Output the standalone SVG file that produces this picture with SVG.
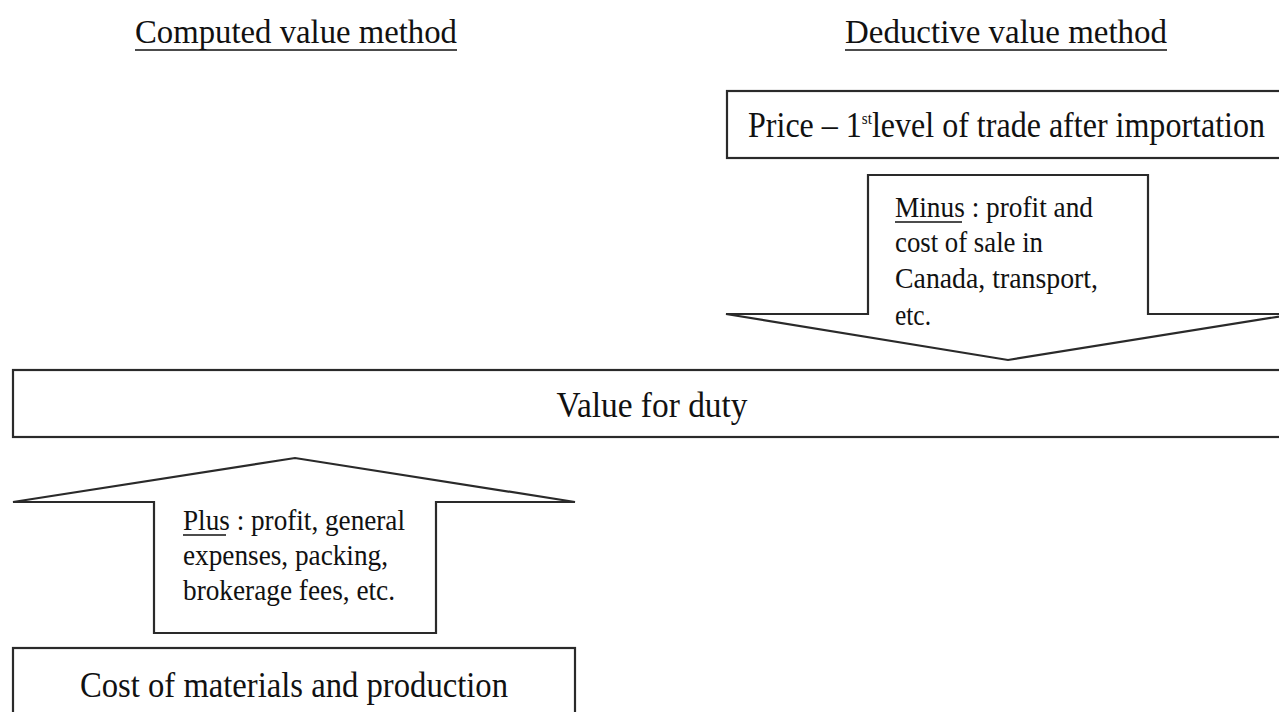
<svg xmlns="http://www.w3.org/2000/svg" width="1279" height="712" viewBox="0 0 1279 712">
<style>
.box{fill:#fff;stroke:#2a2a2a;stroke-width:2.2}
.arr{fill:#fff;stroke:#2a2a2a;stroke-width:2.2;stroke-linejoin:miter}
text{font-family:"Liberation Serif","Times New Roman",serif;fill:#111}
.t{font-size:34px}
.big{font-size:36px}
.s{font-size:29px}
.ul{stroke:#111;stroke-width:1.6}
</style>
<rect width="1279" height="712" fill="#fff"/>
<g id="title-computed">
<text class="t" x="135" y="43" textLength="322" lengthAdjust="spacingAndGlyphs">Computed value method</text>
<line class="ul" x1="135" y1="50" x2="457" y2="50"/>
</g>
<g id="title-deductive">
<text class="t" x="845" y="43" textLength="322" lengthAdjust="spacingAndGlyphs">Deductive value method</text>
<line class="ul" x1="845" y1="50" x2="1167" y2="50"/>
</g>
<g id="price-box">
<rect class="box" x="727" y="91" width="570" height="67"/>
<text class="big" x="748" y="137" textLength="517" lengthAdjust="spacingAndGlyphs">Price – 1<tspan font-size="17" dy="-13">st</tspan><tspan dy="13">level of trade after importation</tspan></text>
</g>
<g id="connectors">
<g id="minus-arrow">
<path class="arr" d="M868,175 L1148,175 L1148,314 L1295,314 L1008,360 L726,314 L868,314 Z"/>
<text class="s" x="895" y="217" textLength="198" lengthAdjust="spacingAndGlyphs">Minus : profit and</text>
<line class="ul" x1="895" y1="222" x2="962" y2="222"/>
<text class="s" x="895" y="252" textLength="148" lengthAdjust="spacingAndGlyphs">cost of sale in</text>
<text class="s" x="895" y="288" textLength="203" lengthAdjust="spacingAndGlyphs">Canada, transport,</text>
<text class="s" x="895" y="325" textLength="36" lengthAdjust="spacingAndGlyphs">etc.</text>
</g>
<g id="plus-arrow">
<path class="arr" d="M154,633 L436,633 L436,502 L575,502 L295,458 L13,502 L154,502 Z"/>
<text class="s" x="183" y="530" textLength="222" lengthAdjust="spacingAndGlyphs">Plus : profit, general</text>
<line class="ul" x1="183" y1="535" x2="226" y2="535"/>
<text class="s" x="183" y="565" textLength="205" lengthAdjust="spacingAndGlyphs">expenses, packing,</text>
<text class="s" x="183" y="600" textLength="212" lengthAdjust="spacingAndGlyphs">brokerage fees, etc.</text>
</g>
</g>
<g id="value-box">
<rect class="box" x="13" y="370" width="1284" height="67"/>
<text class="big" x="652" y="417" text-anchor="middle" textLength="191" lengthAdjust="spacingAndGlyphs">Value for duty</text>
</g>
<g id="cost-box">
<rect class="box" x="13" y="648" width="562" height="80"/>
<text class="big" x="294" y="697" text-anchor="middle" textLength="428" lengthAdjust="spacingAndGlyphs">Cost of materials and production</text>
</g>
</svg>
